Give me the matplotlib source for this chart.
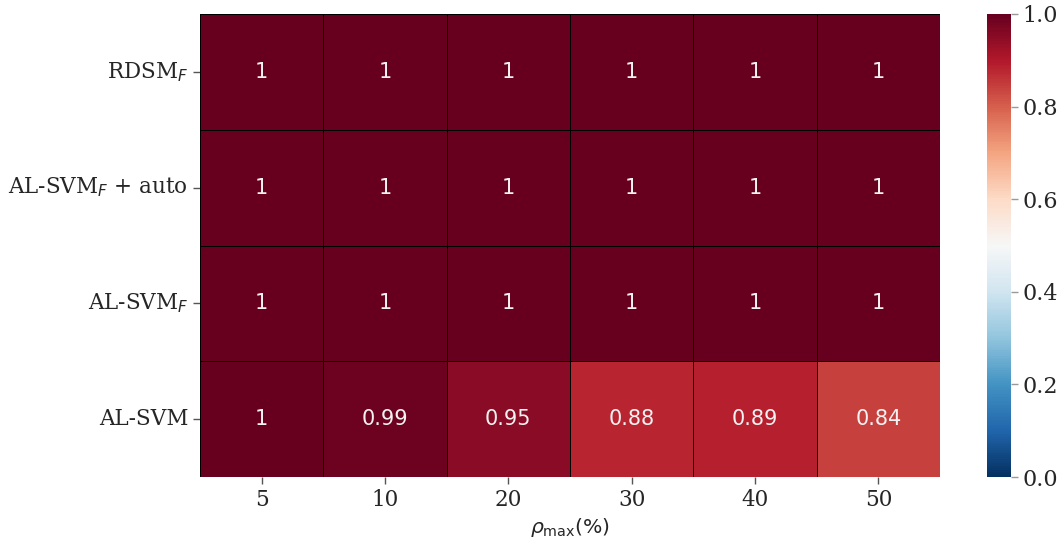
import matplotlib
matplotlib.use("Agg")
import matplotlib.pyplot as plt
import seaborn as sns
import numpy as np
import pandas as pd

methods = [r"RDSM$_F$", r"AL-SVM$_F$ + auto", r"AL-SVM$_F$", "AL-SVM"]
rho_max = ["5", "10", "20", "30", "40", "50"]
rdsm_f = [1, 1, 1, 1, 1, 1]
alsvm_f_auto = [1, 1, 1, 1, 1, 1]
alsvm_f = [1, 1, 1, 1, 1, 1]
alsvm = [1, 0.99, 0.95, 0.88, 0.89, 0.84]

sns.set_style("ticks")
plt.rcParams['font.family'] = ['DejaVu Serif']
plt.rcParams['mathtext.fontset'] = 'dejavusans'

df = pd.DataFrame([rdsm_f, alsvm_f_auto, alsvm_f, alsvm], index=methods, columns=rho_max)

fig = plt.figure(figsize=(10.62, 5.45), dpi=100)
ax = fig.add_axes([200/1062, 1 - 477/545, 740/1062, 463/545])
cax = fig.add_axes([987/1062, 1 - 477/545, 24/1062, 463/545])

sns.heatmap(df, ax=ax, cbar_ax=cax, cmap="RdBu_r", vmin=0, vmax=1, annot=True,
            linewidths=0.5, linecolor="black",
            annot_kws={"fontsize": 15, "fontfamily": "DejaVu Sans", "color": "#f2f2f2"})
ax.set_xticklabels(rho_max, fontsize=15.5, rotation=0)
ax.set_yticklabels(methods, fontsize=15.5, rotation=0)
ax.tick_params(axis="both", bottom=True, left=True, length=5, width=1, color="#555555")
ax.set_xlabel(r"$\rho_{\max}$(%)", fontsize=14.7, fontfamily="DejaVu Sans")
ax.set_ylabel("")
cax.set_yticks([0, 0.2, 0.4, 0.6, 0.8, 1.0])
cax.set_yticklabels(["0.0", "0.2", "0.4", "0.6", "0.8", "1.0"])
cax.tick_params(labelsize=16, right=True, length=5, width=1, color="#999999")

fig.savefig("out.png", dpi=100)
